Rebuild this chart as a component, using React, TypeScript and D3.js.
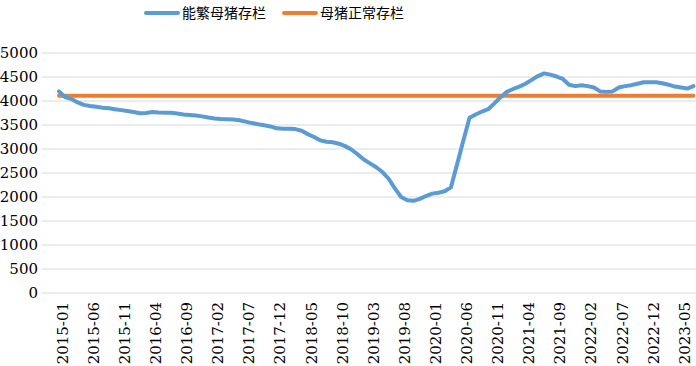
import React from 'react';
import * as d3 from 'd3';

// monthly categories 2015-01 .. 2023-07
const months: string[] = d3.timeMonth
  .range(new Date(2015, 0, 1), new Date(2023, 7, 1))
  .map(d => d3.timeFormat('%Y-%m')(d));

// 能繁母猪存栏
const sowStock: number[] = [
  4200, 4080, 4040, 3970, 3920, 3895, 3880, 3860, 3850, 3830,
  3810, 3790, 3770, 3745, 3750, 3770, 3760, 3755, 3755, 3740,
  3720, 3710, 3700, 3680, 3655, 3635, 3625, 3620, 3615, 3600,
  3570, 3540, 3515, 3495, 3470, 3430, 3420, 3420, 3415, 3380,
  3310, 3250, 3180, 3150, 3140, 3110, 3060, 2990, 2890, 2780,
  2700, 2620, 2520, 2380, 2180, 2000, 1930, 1920, 1960, 2020,
  2070, 2090, 2120, 2200, 2680, 3170, 3650, 3720, 3780, 3830,
  3950, 4080, 4190, 4250, 4300, 4360, 4440, 4520, 4575, 4550,
  4510, 4460, 4340, 4310, 4330, 4310, 4280, 4200, 4190, 4200,
  4280, 4310, 4330, 4360, 4390, 4390, 4390, 4370, 4340, 4300,
  4280, 4260, 4310,
];

// 母猪正常存栏
const normalStock = 4110;

const yTicks = [0, 500, 1000, 1500, 2000, 2500, 3000, 3500, 4000, 4500, 5000];
const tickLabels = months.filter((_, i) => i % 5 === 0);

const seriesNames = ['能繁母猪存栏', '母猪正常存栏'];
const colors = ['#5B9BD5', '#ED7D31'];

const W = 696;
const H = 366;

export default function App() {
  const x = d3.scalePoint<string>().domain(months).range([59, 59 + 102 * 6.22]);
  const y = d3.scaleLinear().domain([0, 5000]).range([293, 53]);

  const line = d3.line<number>()
    .x((_, i) => x(months[i])!)
    .y(d => y(d));

  // Liberation Serif falls back to sans here, DejaVu Serif is the closest serif available
  const serifFont = 'DejaVu Serif';
  const cjkFont = 'Noto Sans CJK SC';

  return (
    <div style={{ position: 'absolute', left: 0, top: 0 }}>
      <svg width={W} height={H} style={{ display: 'block', background: '#fff' }}>
        {/* gridlines */}
        <g>
          {yTicks.map(t => (
            <line key={t} x1={42} x2={W} y1={y(t)} y2={y(t)} stroke="#D9D9D9" strokeWidth={1} />
          ))}
        </g>

        {/* y labels */}
        {yTicks.map(t => (
          <text key={t} x={38} y={y(t)} dy="0.35em" textAnchor="end"
            fontFamily={serifFont} fontSize={15} fill="#000">{t}</text>
        ))}

        {/* x labels */}
        {tickLabels.map(m => {
          const px = x(m)! + 3.5;
          return (
            <text key={m} transform={`translate(${px},302) rotate(-90)`} dy="0.35em" textAnchor="end"
              fontFamily={serifFont} fontSize={15} fill="#000">{m}</text>
          );
        })}

        {/* lines */}
        <path
          d={line(months.map(() => normalStock)) || ''}
          fill="none" stroke={colors[1]} strokeWidth={4} strokeLinecap="round"
        />
        <path
          d={line(sowStock) || ''}
          fill="none" stroke={colors[0]} strokeWidth={4} strokeLinejoin="round" strokeLinecap="round"
        />

        {/* legend */}
        <line x1={146} x2={178} y1={13} y2={13} stroke={colors[0]} strokeWidth={4} strokeLinecap="round" />
        <text x={182} y={13} dy="0.35em" fontFamily={cjkFont} fontSize={14} fill="#000">{seriesNames[0]}</text>
        <line x1={284} x2={316} y1={13} y2={13} stroke={colors[1]} strokeWidth={4} strokeLinecap="round" />
        <text x={320} y={13} dy="0.35em" fontFamily={cjkFont} fontSize={14} fill="#000">{seriesNames[1]}</text>
      </svg>
    </div>
  );
}
